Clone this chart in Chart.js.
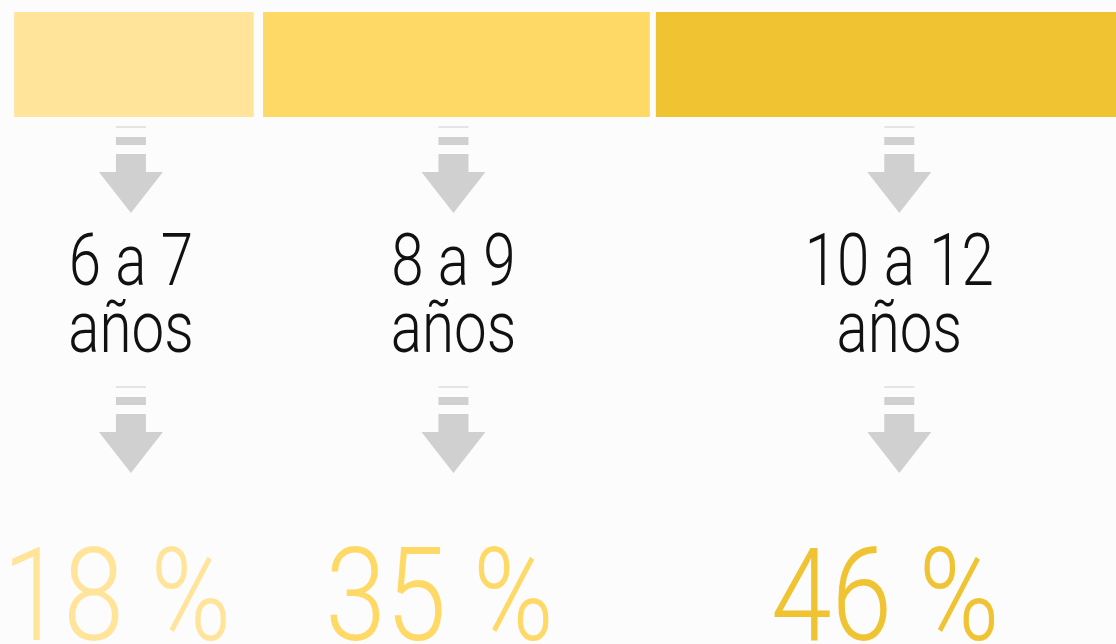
<!DOCTYPE html>
<html>
<head>
<meta charset="utf-8">
<script src="https://cdn.jsdelivr.net/npm/chart.js@4.4.1/dist/chart.umd.min.js"></script>
<style>
    html, body { margin: 0; padding: 0; background: #fcfcfc; }
    #wrap { width: 1116px; height: 644px; position: relative; }
</style>
</head>
<body>
<div id="wrap"><canvas id="myCanvas"></canvas></div>
<script>
// age groups, share of children, and where each band sits on the strip (0-100)
const ageGroups = [['6 a 7', 'años'], ['8 a 9', 'años'], ['10 a 12', 'años']];
const shares = [18, 35, 46];
const barRanges = [[1.3, 22.7], [23.6, 58.2], [58.8, 102.9]];
const barColors = ['#ffe49a', '#ffd966', '#f0c333'];

const arrowGray = '#d0d0d0';

function drawArrow(ctx, cx, top) {
    ctx.fillStyle = '#e4e4e4';
    ctx.fillRect(cx - 15, top, 30, 2);
    ctx.fillStyle = arrowGray;
    ctx.fillRect(cx - 15, top + 11, 30, 8);
    ctx.fillRect(cx - 15, top + 28, 30, 19);
    ctx.beginPath();
    ctx.moveTo(cx - 32, top + 46);
    ctx.lineTo(cx + 32, top + 46);
    ctx.lineTo(cx, top + 87);
    ctx.closePath();
    ctx.fill();
}

// fake a condensed face by squashing the text sideways
function squeezedText(ctx, txt, cx, y, squeeze) {
    ctx.save();
    ctx.translate(cx, y);
    ctx.scale(squeeze, 1);
    ctx.fillText(txt, 0, 0);
    ctx.restore();
}

const infoPlugin = {
    id: 'info',
    afterDatasetsDraw(chart) {
        const ctx = chart.ctx;
        const top = chart.chartArea.bottom;
        chart.data.datasets.forEach((ds, i) => {
            const bar = chart.getDatasetMeta(i).data[0];
            const cx = (bar.x + bar.base) / 2 - 3;

            drawArrow(ctx, cx, top + 9);
            drawArrow(ctx, cx, top + 269);

            ctx.textAlign = 'center';
            ctx.textBaseline = 'alphabetic';
            ctx.fillStyle = '#111';
            ctx.font = '300 72px Roboto';
            squeezedText(ctx, ageGroups[i][0], cx, top + 168, 0.81);
            squeezedText(ctx, ageGroups[i][1], cx, top + 235, 0.81);

            ctx.fillStyle = barColors[i];
            ctx.font = '300 130px Roboto';
            squeezedText(ctx, shares[i] + ' %', cx - 14, top + 523, 0.84);
        });
    }
};

const ctx = document.getElementById('myCanvas').getContext('2d');

new Chart(ctx, {
    type: 'bar',
    data: {
        labels: [''],
        datasets: barRanges.map((r, i) => ({
            label: ageGroups[i].join(' '),
            data: [r],
            backgroundColor: barColors[i],
            borderWidth: 0,
            barPercentage: 1,
            categoryPercentage: 1
        }))
    },
    options: {
        indexAxis: 'y',
        responsive: true,
        maintainAspectRatio: false,
        animation: false,
        grouped: false,
        layout: { padding: { top: 12, bottom: 527, left: 0, right: 0 } },
        scales: {
            x: { display: false, min: 0, max: 100 },
            y: { display: false }
        },
        plugins: {
            legend: { display: false },
            tooltip: { enabled: false }
        }
    },
    plugins: [infoPlugin]
});
</script>
</body>
</html>
